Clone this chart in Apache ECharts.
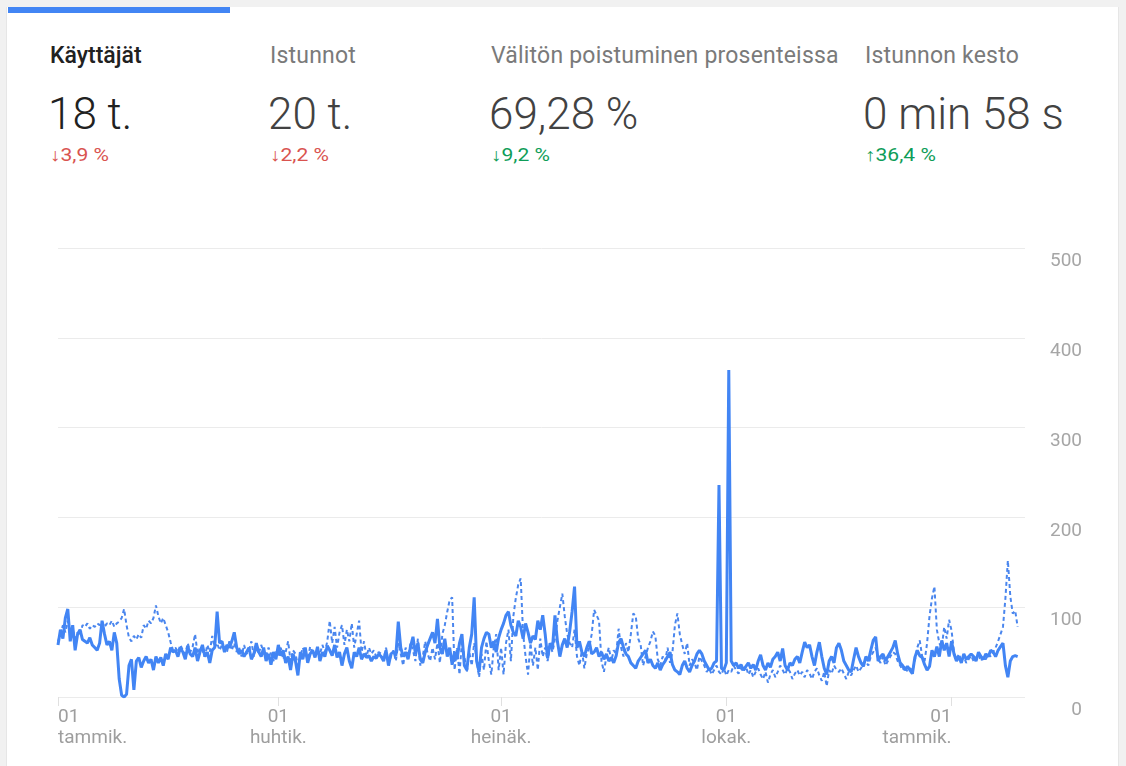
<!DOCTYPE html>
<html><head><meta charset="utf-8">
<script src="https://cdn.jsdelivr.net/npm/echarts@6/dist/echarts.min.js"></script>
<style>
html,body{margin:0;padding:0;width:1126px;height:766px;overflow:hidden;background:#f1f1f1;font-family:Roboto,"Noto Sans",sans-serif;}
#card{position:absolute;left:6px;top:7px;width:1111px;height:800px;background:#fff;border-left:1px solid #e6e6e6;border-right:1px solid #e6e6e6;}
#bar{position:absolute;left:8px;top:7px;width:222px;height:6px;background:#4285f4;}
.tl{position:absolute;top:42px;font-size:23px;line-height:28px;color:#7a7a7a;white-space:nowrap;letter-spacing:0.2px;}
.tl.act{color:#212121;font-weight:500;letter-spacing:0;}
.vl{position:absolute;top:88px;font-size:44px;line-height:52px;font-weight:300;color:#424242;white-space:nowrap;}
.vl.act{color:#212121;}
.ch{position:absolute;top:144px;font-size:18px;line-height:22px;white-space:nowrap;transform:scaleX(1.17);transform-origin:0 50%;}
.dn{color:#d9534f;}
.up{color:#0f9d58;}
#chart{position:absolute;left:0;top:200px;width:1126px;height:566px;}
</style></head>
<body>
<div id="card"></div>
<div id="bar"></div>
<div class="tl act" style="left:50px">Käyttäjät</div>
<div class="tl" style="left:270px">Istunnot</div>
<div class="tl" style="left:491px">Välitön poistuminen prosenteissa</div>
<div class="tl" style="left:865px">Istunnon kesto</div>
<div class="vl act" style="left:48px">18 t.</div>
<div class="vl" style="left:268px">20 t.</div>
<div class="vl" style="left:489px">69,28 %</div>
<div class="vl" style="left:863px">0 min 58 s</div>
<div class="ch dn" style="left:50px">↓3,9 %</div>
<div class="ch dn" style="left:270px">↓2,2 %</div>
<div class="ch up" style="left:491px">↓9,2 %</div>
<div class="ch up" style="left:865px">↑36,4 %</div>
<div id="chart"></div>
<script>
// ---- data ----
const START_YEAR = 2018;          // first day = 1 Jan
const DAY_COUNT = 396;            // days on the category axis
const MONTH_LABELS = {0: 'tammik.', 3: 'huhtik.', 6: 'heinäk.', 9: 'lokak.'};
const Y_MIN = 0, Y_MAX = 500, Y_STEP = 100;

// Käyttäjät, current period (solid line), one value per day
const users = [
58,75,65,88,98,62,80,52,70,75,
64,62,60,66,58,55,52,60,85,70,
58,62,52,72,60,20,2,0,3,35,
42,8,40,44,33,40,45,38,42,30,
45,38,44,35,48,42,55,50,52,45,
55,50,42,56,48,45,55,40,50,58,
45,50,38,52,55,95,60,62,50,58,
55,62,72,55,48,52,45,50,55,42,
48,60,50,45,55,40,48,36,50,42,
58,46,52,38,45,30,48,40,24,50,
42,55,38,48,52,44,56,40,50,45,
57,52,46,58,44,50,35,48,55,40,
32,50,45,55,42,48,44,46,40,45,
43,48,45,40,52,35,48,50,46,84,
55,45,50,42,56,67,48,60,42,38,
50,58,65,72,60,87,55,48,65,45,
55,36,50,42,60,70,35,30,55,70,
111,40,28,55,65,72,70,55,62,50,
66,75,82,91,95,80,72,68,85,78,
65,82,72,60,68,64,85,75,91,70,
43,60,55,91,62,45,58,65,55,73,
95,123,55,62,50,45,55,62,48,50,
55,45,50,42,48,40,44,38,46,61,
65,55,48,45,38,35,32,40,44,48,
52,38,42,35,32,38,30,36,40,45,
50,36,30,28,25,35,40,32,28,35,
40,48,52,48,40,35,30,32,38,40,
236,32,30,38,364,40,35,38,32,36,
30,34,38,32,36,30,40,47,35,30,
38,33,42,45,50,40,54,35,30,38,
35,42,45,38,50,61,55,58,45,35,
50,61,45,32,25,40,45,38,55,60,
52,40,35,30,28,42,55,45,38,34,
45,40,52,63,67,40,45,48,40,45,
50,55,63,48,38,35,30,34,30,26,
44,52,46,44,36,30,34,52,45,56,
45,63,52,60,45,62,48,40,45,38,
48,42,45,48,45,40,50,45,42,48,
45,52,50,45,52,56,60,35,22,40,
45,46,45
];

// Käyttäjät, comparison period (dotted line), one value per day
const usersPrev = [
62,70,80,72,85,70,75,65,72,68,
80,78,82,76,80,78,82,80,84,78,
82,80,85,78,82,84,88,98,80,66,
62,68,64,70,66,80,76,85,82,88,
102,90,82,88,80,72,61,52,55,50,
58,52,48,60,50,56,70,48,55,52,
45,58,50,68,55,60,52,58,55,50,
62,52,60,50,55,45,58,48,52,62,
45,55,48,58,50,45,55,48,40,52,
45,55,42,50,62,40,52,48,35,45,
55,48,42,56,50,45,52,48,58,50,
62,85,60,78,55,72,80,58,75,62,
82,55,70,85,50,62,45,55,48,52,
45,50,48,42,55,38,45,52,40,60,
48,35,55,45,60,52,40,65,35,45,
62,48,40,55,42,60,38,70,80,95,
108,111,30,55,25,62,45,28,50,35,
60,42,22,48,30,62,40,25,55,70,
30,55,25,60,75,40,90,110,125,132,
70,45,25,60,35,55,30,65,45,55,
40,58,50,65,85,100,115,90,70,60,
55,75,45,35,52,32,48,55,70,97,
91,85,40,28,45,55,40,52,48,76,
55,45,60,50,70,93,90,65,58,35,
45,55,62,73,68,42,35,45,40,55,
38,50,80,93,70,58,48,60,35,42,
38,30,45,40,35,28,32,25,30,35,
28,25,32,24,30,28,35,30,26,32,
28,34,25,30,22,28,32,25,20,28,
16,25,30,22,28,35,30,25,32,28,
20,26,30,24,28,22,30,26,20,28,
32,24,18,28,12,30,26,35,30,28,
32,26,20,28,24,30,35,28,32,38,
40,35,45,50,55,42,38,45,35,40,
45,50,48,40,35,30,35,28,32,30,
40,55,63,45,40,60,90,110,123,75,
60,55,78,65,86,74,50,42,48,40,
45,38,42,46,40,44,48,40,45,42,
48,45,50,55,62,70,78,110,152,112,
93,96,78
];

// ---- categories (dates) ----
const dates = [];
for (let i = 0; i < DAY_COUNT; i++) {
  dates.push(new Date(Date.UTC(START_YEAR, 0, 1 + i)).toISOString().slice(0, 10));
}
const isQuarterStart = v => v.slice(8) === '01' && MONTH_LABELS.hasOwnProperty(+v.slice(5, 7) - 1);
const qIdx = [];
dates.forEach((v, i) => { if (isQuarterStart(v)) qIdx.push(i); });
const firstQ = qIdx[0], lastQ = qIdx[qIdx.length - 1];
const fmt = v => v.slice(8) + '\n' + MONTH_LABELS[+v.slice(5, 7) - 1];

const labelStyle = {color: '#9e9e9e', fontSize: 19, lineHeight: 21, margin: 10, fontFamily: 'Roboto'};
const hiddenAxisParts = {axisLine: {show: false}, axisTick: {show: false}, splitLine: {show: false}};

const chart = echarts.init(document.getElementById('chart'), null, {renderer: 'canvas'});
chart.setOption({
  animation: false,
  grid: {left: 58, right: 101, top: 48, bottom: 69},
  xAxis: [
    Object.assign({
      type: 'category', data: dates, boundaryGap: false, position: 'bottom',
      axisLabel: Object.assign({interval: (i, v) => isQuarterStart(v) && i !== firstQ && i !== lastQ, formatter: fmt, align: 'center'}, labelStyle)
    }, hiddenAxisParts, {axisTick: {show: true, interval: (i, v) => isQuarterStart(v), length: 9, lineStyle: {color: '#e0e0e0'}}}),
    Object.assign({
      type: 'category', data: dates, boundaryGap: false, position: 'bottom',
      axisLabel: Object.assign({interval: (i) => i === firstQ, formatter: fmt, align: 'left'}, labelStyle)
    }, hiddenAxisParts),
    Object.assign({
      type: 'category', data: dates, boundaryGap: false, position: 'bottom',
      axisLabel: Object.assign({interval: (i) => i === lastQ, formatter: fmt, align: 'right'}, labelStyle)
    }, hiddenAxisParts)
  ],
  yAxis: {
    type: 'value', position: 'right', min: Y_MIN, max: Y_MAX, interval: Y_STEP,
    axisLine: {show: false}, axisTick: {show: false},
    axisLabel: {color: '#a6a6a6', fontSize: 19, align: 'right', margin: 57, verticalAlign: 'top', padding: [4, 0, 0, 0], fontFamily: 'Roboto'},
    splitLine: {lineStyle: {color: '#ebebeb', width: 1}}
  },
  series: [
    {name: 'Käyttäjät (edellinen)', type: 'line', data: usersPrev, xAxisIndex: 0, showSymbol: false, z: 1,
     lineStyle: {color: '#4a86ee', width: 2, type: [4, 3]}},
    {name: 'Käyttäjät', type: 'line', data: users, xAxisIndex: 0, showSymbol: false, z: 2,
     lineStyle: {color: '#4285f4', width: 3}}
  ]
});
</script>
</body></html>
